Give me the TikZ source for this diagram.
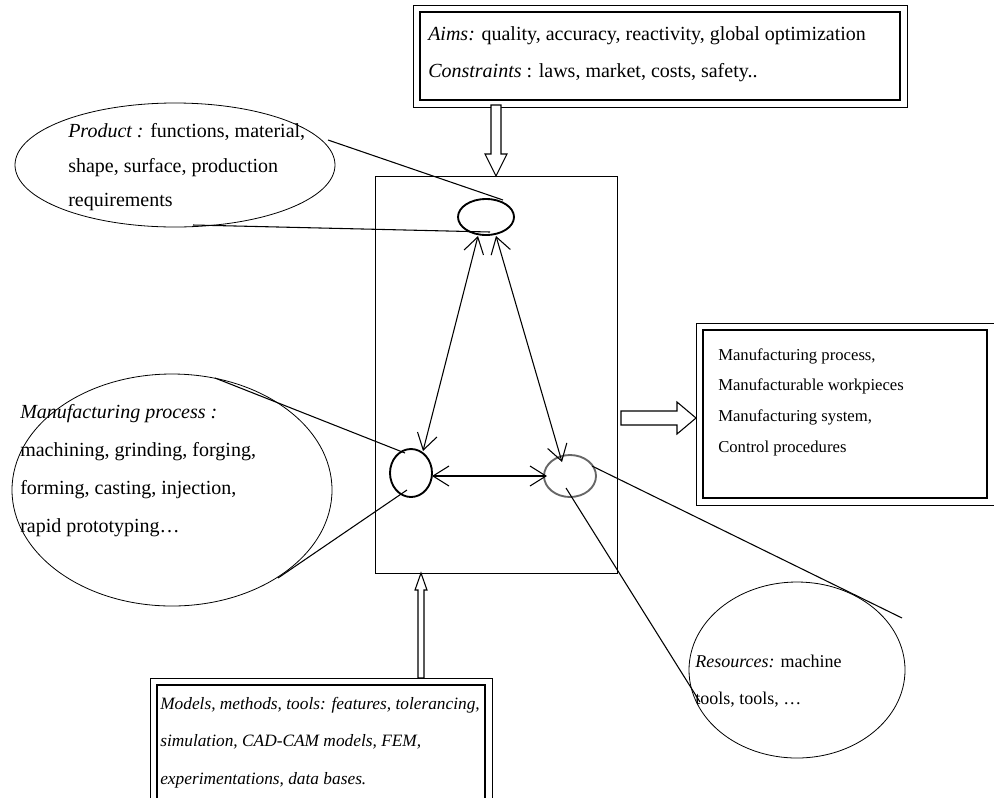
\documentclass[tikz,border=0pt]{standalone}
\usepackage{fontspec}
\setmainfont{Liberation Serif}
\usetikzlibrary{arrows.meta,calc,shapes.geometric}
\begin{document}
\begin{tikzpicture}[x=0.75pt,y=-0.75pt,
  txt/.style={inner sep=0pt,align=left,anchor=north west,font=\fontsize{15}{28}\selectfont},
  bubble/.style={draw,ellipse,line width=0.6pt,inner sep=0pt},
  hub/.style={draw,ellipse,line width=1.4pt,inner sep=0pt},
  frame/.style={draw,line width=1.5pt,inner sep=0pt,anchor=north west},
  callout/.style={line width=0.8pt},
  link/.style={line width=0.8pt,{Straight Barb[length=12pt,width=15pt,line width=0.8pt]}-{Straight Barb[length=12pt,width=15pt,line width=0.8pt]}},
  hollow/.style={draw,line width=0.8pt,fill=white}
]
\useasboundingbox (0,0) rectangle (994,797);

% central system box
\node[draw,line width=0.9pt,inner sep=0pt,minimum width=242*0.75pt,minimum height=397*0.75pt,anchor=north west] (sys) at (375,176) {};

% three hubs inside the system box
\node[hub,minimum width=56*0.75pt,minimum height=36*0.75pt] (prod) at (486,217) {};
\node[hub,minimum width=42*0.75pt,minimum height=48*0.75pt] (proc) at (411,473) {};
\node[hub,draw=black!60,minimum width=52*0.75pt,minimum height=42*0.75pt] (res) at (570,476) {};

% links between the hubs
\coordinate (pA) at (478,236);
\coordinate (pB) at (496,236);
\coordinate (qA) at (423,451);
\coordinate (qB) at (432,476);
\coordinate (rA) at (562,462);
\coordinate (rB) at (547,476);
\draw[link] (pA) -- (qA);
\draw[link] (pB) -- (rA);
\draw[link] (qB) -- (rB);

% aims and constraints
\node[frame,minimum width=480*0.75pt,minimum height=88*0.75pt] (aims) at (419,11) {};
\draw[line width=0.6pt] ($(aims.north west)+(-6,-6)$) rectangle ($(aims.south east)+(6,6)$);
\node[txt] (aimstxt) at (428,26) {\textit{Aims:} quality, accuracy, reactivity, global optimization\\\textit{Constraints} : laws, market, costs, safety..};

% hollow arrow down into the system box
\draw[hollow] (491,105) -- (501,105) -- (501,154) -- (507,154) -- (496,176) -- (485,154) -- (491,154) -- cycle;

% product bubble
\node[bubble,minimum width=320*0.75pt,minimum height=124*0.75pt] (prodb) at (175,165) {};
\node[txt,font=\fontsize{15}{26}\selectfont] (prodtxt) at (68,123) {\textit{Product :} functions, material,\\shape, surface, production\\requirements};
\draw[callout] (328,140) -- (503,200);
\draw[callout] (193,225) -- (490,232);

% manufacturing process bubble
\node[bubble,minimum width=320*0.75pt,minimum height=232*0.75pt] (procb) at (172,490) {};
\node[txt,font=\fontsize{15}{28.5}\selectfont] (proctxt) at (20,404) {\textit{Manufacturing process :}\\machining, grinding, forging,\\forming, casting, injection,\\rapid prototyping\ldots};
\draw[callout] (215,378) -- (405,453);
\draw[callout] (278,578) -- (407,490);

% resources bubble
\node[bubble,minimum width=216*0.75pt,minimum height=176*0.75pt] (resb) at (797,670) {};
\node[txt,font=\fontsize{13.5}{27.5}\selectfont] (restxt) at (695,655) {\textit{Resources:} machine\\tools, tools, \ldots};
\draw[callout] (566,488) -- (700,702);
\draw[callout] (592,466) -- (902,618);

% hollow arrow to the outputs
\draw[hollow] (621,411) -- (677,411) -- (677,402) -- (696,418) -- (677,434) -- (677,425) -- (621,425) -- cycle;

% outputs
\node[frame,minimum width=284*0.75pt,minimum height=168*0.75pt] (out) at (702,329) {};
\draw[line width=0.6pt] ($(out.north west)+(-6,-6)$) rectangle ($(out.south east)+(6,6)$);
\node[txt,font=\fontsize{12.5}{23}\selectfont] (outtxt) at (718,348) {Manufacturing process,\\Manufacturable workpieces\\Manufacturing system,\\Control procedures};

% hollow arrow up from the models box
\draw[hollow] (418,678) -- (424,678) -- (424,590) -- (427,590) -- (421,573) -- (415,590) -- (418,590) -- cycle;

% models, methods, tools
\node[frame,minimum width=328*0.75pt,minimum height=120*0.75pt] (mod) at (156,684) {};
\draw[line width=0.6pt] ($(mod.north west)+(-6,-6)$) rectangle ($(mod.south east)+(6,6)$);
\node[txt,font=\fontsize{13}{28}\selectfont\itshape] (modtxt) at (160,697) {Models, methods, tools: features, tolerancing,\\simulation, CAD-CAM models, FEM,\\experimentations, data bases.};
\end{tikzpicture}
\end{document}
